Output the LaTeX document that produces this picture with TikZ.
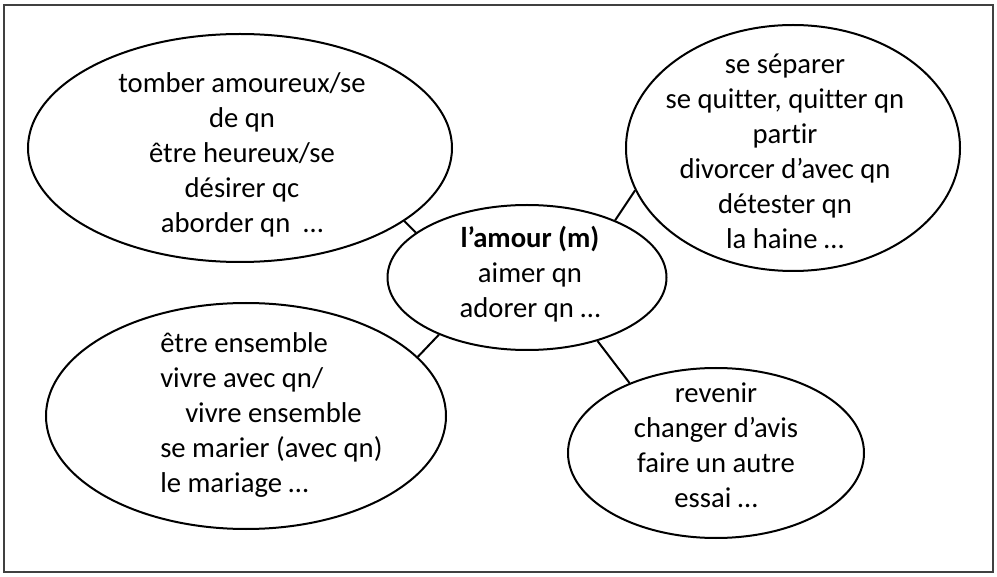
\documentclass[tikz,border=0pt]{standalone}
\usepackage{fontspec}
\setmainfont{Carlito}[Ligatures=NoCommon]
\usetikzlibrary{shapes.geometric}
\begin{document}
\begin{tikzpicture}[x=0.75pt,y=-0.75pt,
  bubble/.style={draw=black,line width=1.5pt,ellipse,inner sep=0pt},
  txt/.style={inner sep=0pt,font=\fontsize{21.5pt}{26.25pt}\selectfont},
  link/.style={draw=black,line width=1.5pt}]
\useasboundingbox (0,0) rectangle (997,577);
\draw[black!75,line width=0.9pt] (4,5) rectangle (993,572);
% ellipses
\node[bubble,minimum width=318pt,minimum height=171pt] (tl) at (240,148) {};
\node[bubble,minimum width=209.25pt,minimum height=108.75pt] (c) at (527,277.5) {};
\node[bubble,minimum width=250.5pt,minimum height=184.5pt] (tr) at (793,148) {};
\node[bubble,minimum width=300pt,minimum height=169.5pt] (bl) at (246,416) {};
\node[bubble,minimum width=222pt,minimum height=127.5pt] (br) at (716,453) {};
% texts
\node[txt,align=center] (tltxt) at (242,155) {tomber amoureux/se\\de qn\\être heureux/se\\désirer qc\\aborder qn\ \ …};
\node[txt,align=center] (ctxt) at (530,274) {\textbf{l’amour (m)}\\aimer qn\\adorer qn …};
\node[txt,align=center] (trtxt) at (785,151) {se séparer\\se quitter, quitter qn\\partir\\divorcer d’avec qn\\détester qn\\la haine …};
\node[txt,align=left,anchor=west] (bltxt) at (160,415) {être ensemble\\vivre avec qn/\\\hspace*{18.75pt}vivre ensemble\\se marier (avec qn)\\le mariage …};
\node[txt,align=center] (brtxt) at (716,445) {revenir\\changer d’avis\\faire un autre\\essai …};
% connectors
\draw[link] (tl.-24.5) -- (c.158.9);
\draw[link] (c.33.6) -- (tr.195.7);
\draw[link] (c.213.8) -- (bl.19.9);
\draw[link] (c.-42.3) -- (br.141);
\end{tikzpicture}
\end{document}
